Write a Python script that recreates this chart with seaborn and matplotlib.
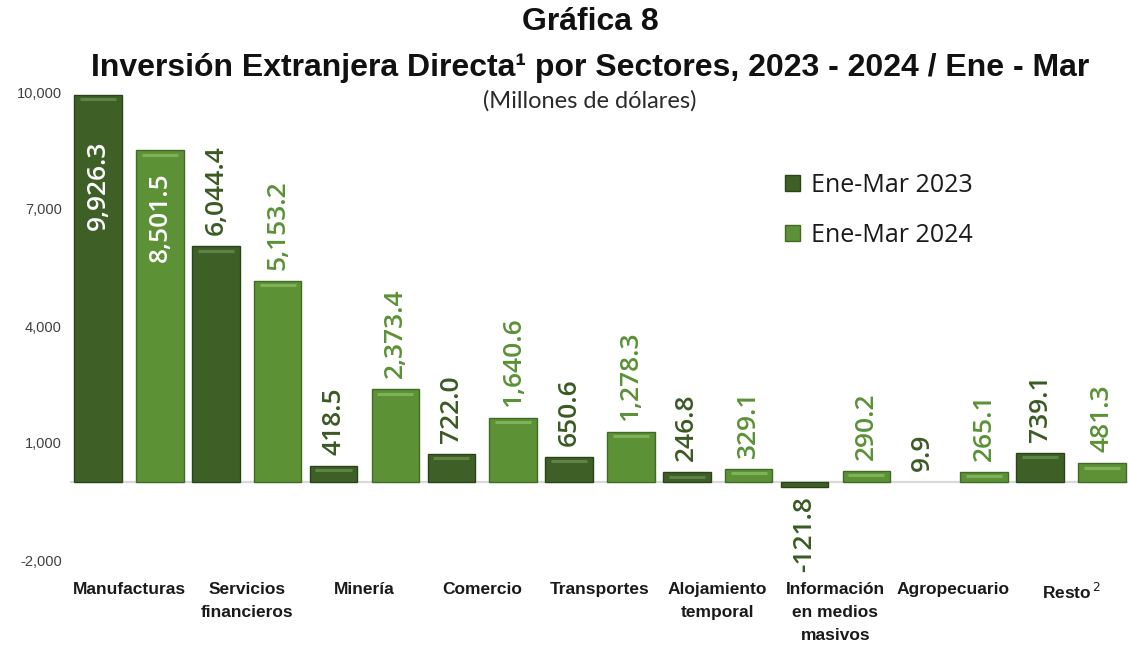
import matplotlib
matplotlib.use("Agg")
import matplotlib.pyplot as plt
import seaborn as sns
import pandas as pd

# ---- data ----
categories = ["Manufacturas", "Servicios\nfinancieros", "Minería", "Comercio", "Transportes",
              "Alojamiento\ntemporal", "Información\nen medios\nmasivos", "Agropecuario", "Resto$^{\\,2}$"]
series_names = ["Ene-Mar 2023", "Ene-Mar 2024"]
values_2023 = [9926.3, 6044.4, 418.5, 722.0, 650.6, 246.8, -121.8, 9.9, 739.1]
values_2024 = [8501.5, 5153.2, 2373.4, 1640.6, 1278.3, 329.1, 290.2, 265.1, 481.3]
y_ticks = [-2000, 1000, 4000, 7000, 10000]

df = pd.DataFrame({
    "Sector": categories * 2,
    "Periodo": [series_names[0]] * len(categories) + [series_names[1]] * len(categories),
    "Valor": values_2023 + values_2024,
})

bar_colors = ["#3e6027", "#5c9136"]
edge_colors = ["#2a4419", "#416b25"]
shine_colors = ["#5f8246", "#7fb15a"]
label_colors = ["#3a5a23", "#5a9136"]

sns.set_theme(style="white")
plt.rcParams["font.family"] = ["Open Sans", "DejaVu Sans"]

fig = plt.figure(figsize=(11.28, 6.45), dpi=100)
ax = fig.add_axes([70.1 / 1128, 85 / 645, 1057.4 / 1128, 468 / 645])

sns.barplot(data=df, x="Sector", y="Valor", hue="Periodo", order=categories,
            hue_order=series_names, palette=bar_colors, width=1.05, gap=0.23,
            saturation=1, errorbar=None, ax=ax, zorder=3)

for ci, cont in enumerate(ax.containers):
    for p in cont.patches:
        p.set_edgecolor(edge_colors[ci])
        p.set_linewidth(1.0 if abs(p.get_height()) > 50 else 0)
        h = p.get_height()
        if h > 150:
            x0, w = p.get_x(), p.get_width()
            ax.plot([x0 + 0.12 * w, x0 + 0.88 * w], [h - 110, h - 110],
                    color=shine_colors[ci], lw=2.2, solid_capstyle="butt", zorder=4)

ax.set_xlim(-0.5, 8.48)
ax.set_ylim(-2000, 10000)
ax.set_yticks(y_ticks)
ax.set_yticklabels([f"{v:,}" for v in y_ticks], fontsize=10.5, color="#404040",
                   family=["Liberation Sans", "DejaVu Sans"])
ax.set_xticks(range(len(categories)))
ax.set_xticklabels(categories, fontsize=12.5, fontweight="bold", color="#1a1a1a",
                   family=["Liberation Sans", "DejaVu Sans"],
                   linespacing=1.65, va="top")
ax.tick_params(axis="x", length=0, pad=16)
ax.tick_params(axis="y", length=0, pad=6)
ax.set_xlabel("")
ax.set_ylabel("")
for s in ax.spines.values():
    s.set_visible(False)
ax.axhline(0, color="#d9d9d9", lw=1.6, zorder=2)

# labels
inside_offsets = {(0, 0): 33, (1, 0): 16}
all_values = [values_2023, values_2024]
for ci, cont in enumerate(ax.containers):
    for i, p in enumerate(cont.patches):
        v = all_values[ci][i]
        xc = p.get_x() + p.get_width() / 2
        txt = f"{v:,.1f}"
        if (ci, i) in inside_offsets:
            ax.annotate(txt, (xc, v), xytext=(0, -inside_offsets[(ci, i)]),
                        textcoords="offset points", rotation=90, ha="center", va="top",
                        fontsize=19, fontweight="semibold", color="white", zorder=5)
        elif v >= 0:
            ax.annotate(txt, (xc, v), xytext=(0, 8), textcoords="offset points",
                        rotation=90, ha="center", va="bottom", fontsize=19,
                        fontweight="semibold", color=label_colors[ci], zorder=5)
        else:
            ax.annotate(txt, (xc, v), xytext=(0, -7), textcoords="offset points",
                        rotation=90, ha="center", va="top", fontsize=19,
                        fontweight="semibold", color=label_colors[ci], zorder=5)

leg = ax.legend(loc="upper left", bbox_to_anchor=(0.655, 0.875), frameon=False,
                fontsize=18, handlelength=0.6, handleheight=0.6, handletextpad=0.45,
                labelspacing=1.0)
for h, ec in zip(leg.legend_handles, edge_colors):
    h.set_edgecolor(ec)
for t in leg.get_texts():
    t.set_color("#1a1a1a")

title_family = ["Liberation Sans", "DejaVu Sans"]
fig.text(0.523, 0.966, "Gráfica 8", ha="center", va="center", fontsize=23,
         fontweight="bold", family=title_family, color="#111111")
fig.text(0.523, 0.895, "Inversión Extranjera Directa¹ por Sectores, 2023 - 2024 / Ene - Mar",
         ha="center", va="center", fontsize=23, fontweight="bold", family=title_family,
         color="#111111")
fig.text(0.523, 0.843, "(Millones de dólares)", ha="center", va="center", fontsize=17,
         family=["Lato", "DejaVu Sans"], color="#2a2a2a")

fig.savefig("out.png", dpi=100)
